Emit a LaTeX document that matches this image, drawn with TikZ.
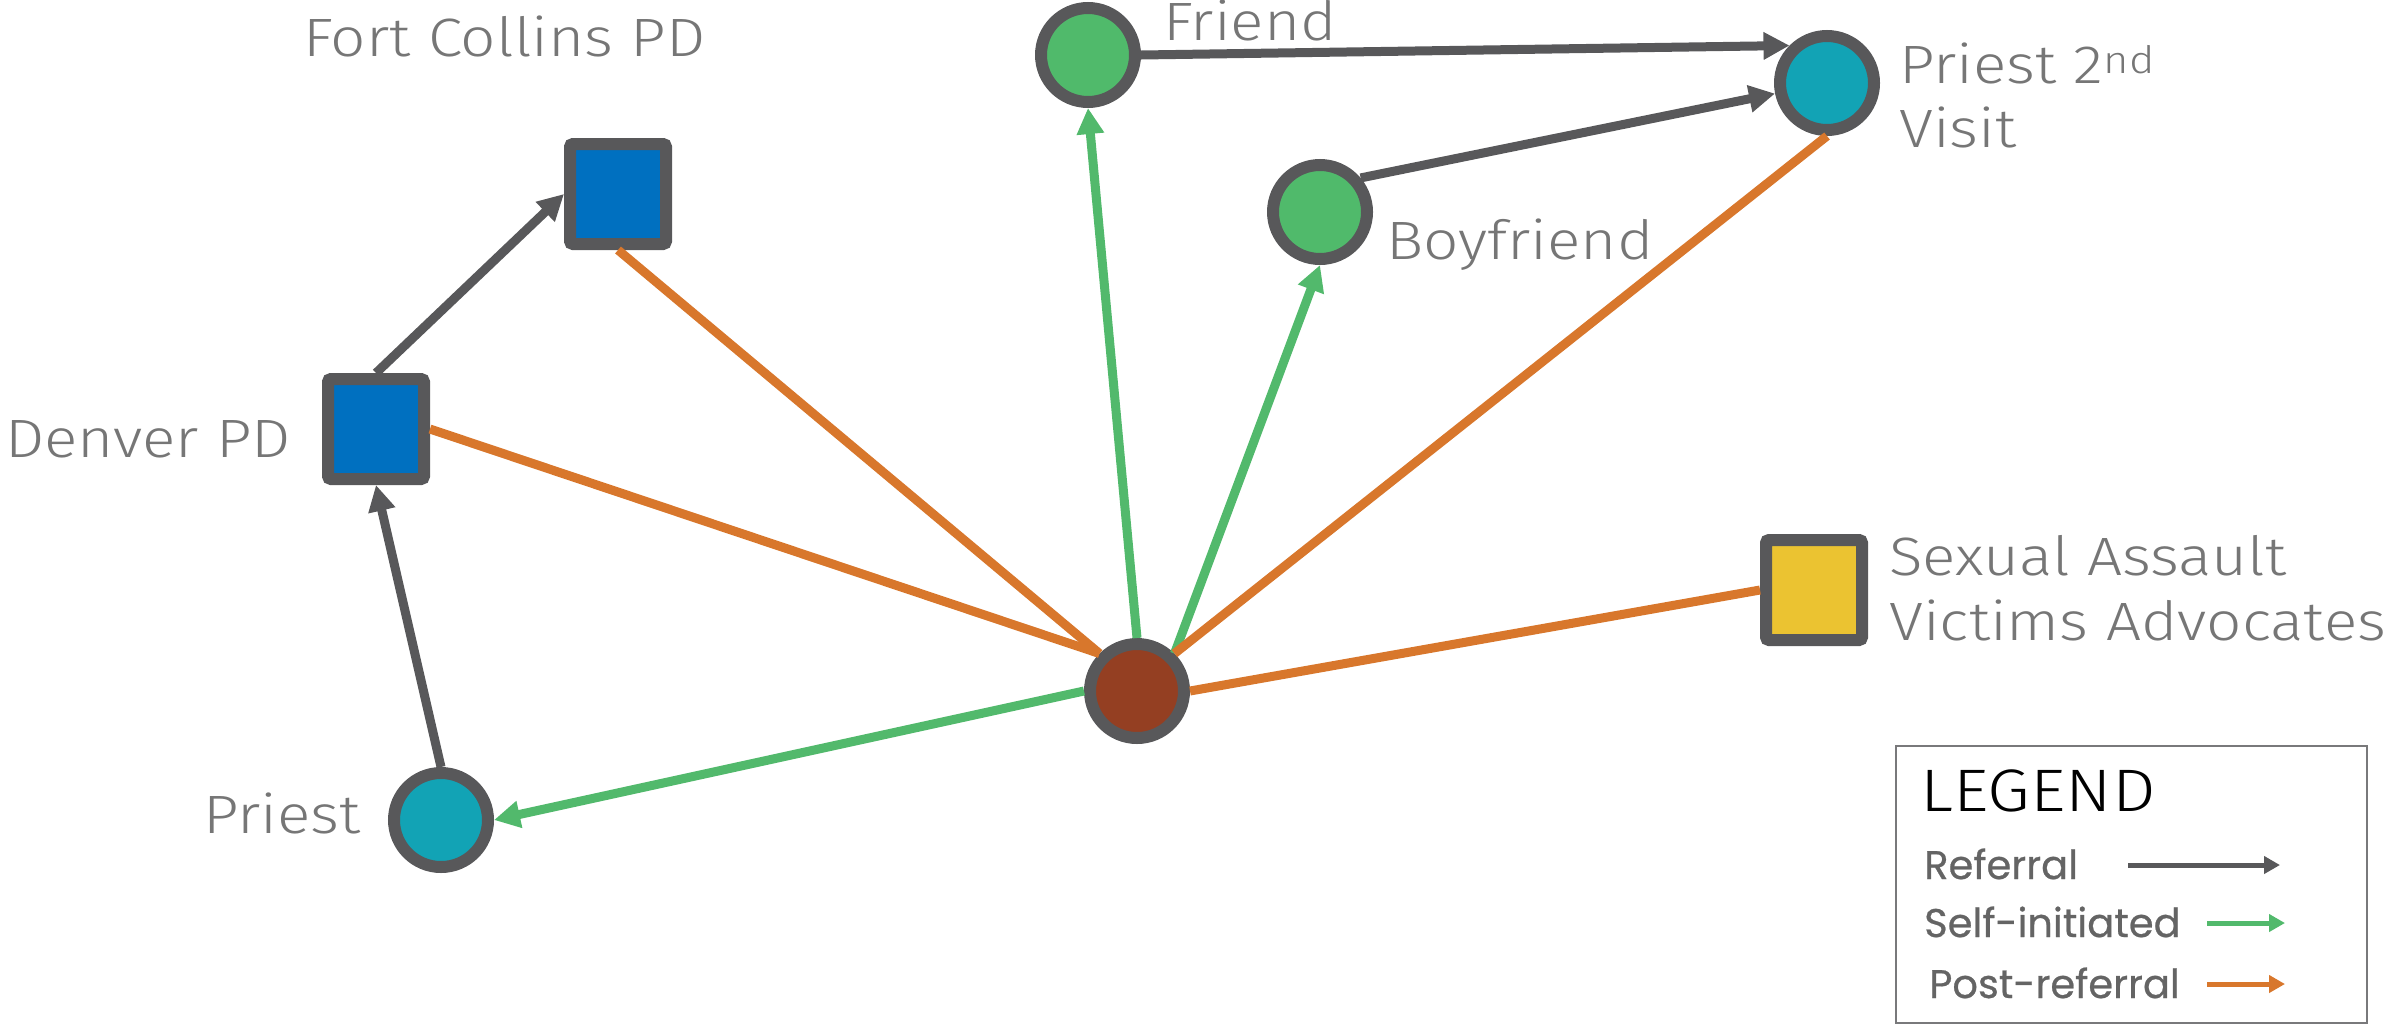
\documentclass[tikz,border=0pt]{standalone}
\usepackage{fontspec}
\setmainfont{Fira Sans}
\newfontfamily\lightfont{Fira Sans Light}[FakeStretch=1.15]
\newfontfamily\legfont{Poppins}[FakeBold=0.6]
\usetikzlibrary{arrows.meta}
\definecolor{ringgray}{HTML}{58585A}
\definecolor{selfgreen}{HTML}{52B96C}
\definecolor{postorange}{HTML}{D8772C}
\definecolor{pdblue}{HTML}{0070C0}
\definecolor{priestteal}{HTML}{12A3B5}
\definecolor{friendgreen}{HTML}{50BA6B}
\definecolor{centerbrown}{HTML}{943F22}
\definecolor{savayellow}{HTML}{EBC331}
\definecolor{labgray}{HTML}{767676}
\definecolor{leggray}{HTML}{646464}
\tikzset{
  circnode/.style={circle, draw=ringgray, line width=12pt, minimum size=94pt, inner sep=0pt, outer sep=6pt},
  sqnode/.style={rectangle, draw=ringgray, line width=12pt, minimum width=96pt, minimum height=100pt, inner sep=0pt, outer sep=6pt, rounded corners=3pt},
  lab/.style={font=\lightfont\fontsize{54}{64}\selectfont, text=labgray, inner sep=0pt, anchor=base west},
  legtext/.style={font=\legfont\fontsize{40}{46}\selectfont, text=leggray, inner sep=0pt, anchor=base west},
  refarrow/.style={draw=ringgray, line width=9pt, -{Triangle[length=26pt,width=26pt]}},
  selfarrow/.style={draw=selfgreen, line width=9pt, -{Triangle[length=26pt,width=26pt]}},
  postline/.style={draw=postorange, line width=9pt},
  legref/.style={draw=ringgray, line width=5pt, -{Triangle[length=16pt,width=17pt]}},
  legself/.style={draw=selfgreen, line width=5pt, -{Triangle[length=16pt,width=17pt]}},
  legpost/.style={draw=postorange, line width=5pt, -{Triangle[length=16pt,width=17pt]}},
}
\begin{document}
\begin{tikzpicture}[x=1pt,y=-1pt]
\useasboundingbox (0,0) rectangle (2389,1029);
% nodes
\node[circnode, fill=friendgreen] (friend) at (1088,55) {};
\node[circnode, fill=priestteal] (p2) at (1827,83) {};
\node[circnode, fill=friendgreen] (bf) at (1320,212) {};
\node[sqnode, fill=pdblue] (fc) at (618,194) {};
\node[sqnode, fill=pdblue] (denver) at (376,429) {};
\node[circnode, fill=centerbrown] (c) at (1137,691) {};
\node[circnode, fill=priestteal] (priest) at (441,820) {};
\node[sqnode, fill=savayellow] (sava) at (1814,590) {};
% labels
\node[lab] (tfc) at (303,56) {Fort Collins PD};
\node[lab] (tfriend) at (1163,40) {Friend};
\node[lab] (tp2a) at (1899,83) {Priest 2\textsuperscript{nd}};
\node[lab] (tp2b) at (1899,147) {Visit};
\node[lab] (tbf) at (1386,259) {Boyfriend};
\node[lab] (tdenver) at (5,457) {Denver PD};
\node[lab] (tpriest) at (203,833) {Priest};
\node[lab] (tsava1) at (1889,575) {Sexual Assault};
\node[lab] (tsava2) at (1889,640) {Victims Advocates};
% connectors
\draw[refarrow] (priest.north) -- (denver.south);
\draw[refarrow] (denver.north) -- (fc.west);
\draw[refarrow] (friend.east) -- (p2.135);
\draw[refarrow] (bf.40) -- (p2);
\draw[selfarrow] (c.north) -- (friend.south);
\draw[selfarrow] (c.45) -- (bf.south);
\draw[selfarrow] (c.west) -- (priest.east);
\draw[postline] (c.45) -- (p2.south);
\draw[postline] (c.135) -- (fc.south);
\draw[postline] (c.135) -- (denver.east);
\draw[postline] (c.east) -- (sava.west);
% legend
\node[draw=ringgray!80, line width=2pt, minimum width=471pt, minimum height=277pt, anchor=north west, inner sep=0pt] (legbox) at (1895,745) {};
\node[font=\lightfont\fontsize{60}{66}\selectfont, text=black, inner sep=0pt, anchor=base west] (legtitle) at (1920,811) {LEGEND};
\node[legtext] (lref) at (1924,879) {Referral};
\node[legtext] (lself) at (1924,937) {Self-initiated};
\node[legtext] (lpost) at (1929,998) {Post-referral};
\coordinate (ra) at (2128,865);
\coordinate (rb) at (2280,865);
\coordinate (sa) at (2207,923);
\coordinate (sb) at (2285,923);
\coordinate (pa) at (2207,984);
\coordinate (pb) at (2285,984);
\draw[legref] (ra) -- (rb);
\draw[legself] (sa) -- (sb);
\draw[legpost] (pa) -- (pb);
\end{tikzpicture}
\end{document}
